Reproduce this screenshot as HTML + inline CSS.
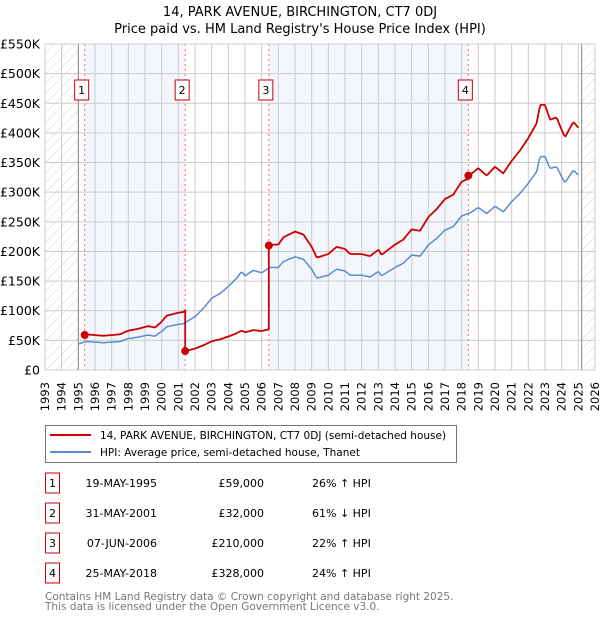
<!DOCTYPE html>
<html><head><meta charset="utf-8"><style>
body{margin:0;background:#fff;font-family:"DejaVu Sans","Liberation Sans",sans-serif;}
svg text{font-family:"DejaVu Sans","Liberation Sans",sans-serif;}
</style></head><body>
<svg id="c" width="600" height="620" xmlns="http://www.w3.org/2000/svg">
<defs><pattern id="hatch" width="7" height="7" patternUnits="userSpaceOnUse" patternTransform="rotate(45)"><line x1="0" y1="0" x2="0" y2="7" stroke="#d4d4d4" stroke-width="1"/></pattern></defs>
<text x="300" y="16" text-anchor="middle" font-size="13">14, PARK AVENUE, BIRCHINGTON, CT7 0DJ</text>
<text x="300" y="33" text-anchor="middle" font-size="13">Price paid vs. HM Land Registry's House Price Index (HPI)</text>
<g id="plot"></g>
<g>
<rect x="45.5" y="425.5" width="411" height="37" fill="#fff" stroke="#777"/>
<line x1="50" y1="435" x2="91" y2="435" stroke="#cc0000" stroke-width="2"/>
<text x="100" y="439" font-size="10.5">14, PARK AVENUE, BIRCHINGTON, CT7 0DJ (semi-detached house)</text>
<line x1="50" y1="452" x2="91" y2="452" stroke="#5b8bd0" stroke-width="2"/>
<text x="100" y="456" font-size="10.5">HPI: Average price, semi-detached house, Thanet</text>
</g>
<g id="table"></g>
<text x="45" y="600" font-size="10.5" fill="#777">Contains HM Land Registry data © Crown copyright and database right 2025.</text>
<text x="45" y="610" font-size="10.5" fill="#777">This data is licensed under the Open Government Licence v3.0.</text>
</svg>
<script>
const hpiYears=[1995.0,1995.5,1996.5,1997.5,1998.0,1998.5,1999.2,1999.6,2000.0,2000.3,2001.0,2001.3,2002.0,2002.5,2003.0,2003.5,2004.0,2004.5,2004.8,2005.0,2005.5,2006.0,2006.5,2007.0,2007.3,2008.0,2008.5,2009.0,2009.3,2010.0,2010.5,2011.0,2011.3,2012.0,2012.5,2013.0,2013.2,2014.0,2014.5,2015.0,2015.5,2016.0,2016.5,2017.0,2017.5,2018.0,2018.5,2019.0,2019.5,2020.0,2020.5,2021.0,2021.5,2022.0,2022.5,2022.7,2023.0,2023.3,2023.7,2024.0,2024.2,2024.7,2025.0];
const hpiValues=[44,48,46,48,53,55,59,57,65,73,77,78,90,104,121,129,141,155,166,159,168,164,173,173,183,191,187,170,155,160,170,167,160,160,157,166,159,173,180,194,192,211,222,236,242,260,265,274,264,276,267,284,298,315,335,360,360,340,343,326,316,337,329];
const saleLabels=["1","2","3","4"];
const saleYears=[1995.38,2001.41,2006.43,2018.40];
const salePrices=[59000,32000,210000,328000];
const saleDates=["19-MAY-1995","31-MAY-2001","07-JUN-2006","25-MAY-2018"];
const saleDiffs=["26% \u2191 HPI","61% \u2193 HPI","22% \u2191 HPI","24% \u2191 HPI"];
const yTicks=[0,50,100,150,200,250,300,350,400,450,500,550];
const yTickLabels=["£0","£50K","£100K","£150K","£200K","£250K","£300K","£350K","£400K","£450K","£500K","£550K"];
const xTicks=[1993,1994,1995,1996,1997,1998,1999,2000,2001,2002,2003,2004,2005,2006,2007,2008,2009,2010,2011,2012,2013,2014,2015,2016,2017,2018,2019,2020,2021,2022,2023,2024,2025,2026];

const L=45,R=595,T=44,B=370,X0=1993,X1=2026,YMAX=550;
const xs=y=>L+(y-X0)/(X1-X0)*(R-L);
const ys=v=>B-v/YMAX*(B-T);
const NS="http://www.w3.org/2000/svg";
const plot=document.getElementById('plot');
function mk(tag,attrs,parent){const e=document.createElementNS(NS,tag);for(const k in attrs)e.setAttribute(k,attrs[k]);(parent||plot).appendChild(e);return e;}
function hpiAt(y){if(y<=hpiYears[0])return hpiValues[0];for(let i=1;i<hpiYears.length;i++){if(y<=hpiYears[i]){const t=(y-hpiYears[i-1])/(hpiYears[i]-hpiYears[i-1]);return hpiValues[i-1]+t*(hpiValues[i]-hpiValues[i-1]);}}return hpiValues[hpiValues.length-1];}

let e;
e=mk('rect',{x:L,y:T,width:R-L,height:B-T,fill:'#fff'});


[[0,1],[2,3]].forEach((p,i)=>{
 e=mk('rect',{x:xs(saleYears[p[0]]),y:T,width:xs(saleYears[p[1]])-xs(saleYears[p[0]]),height:B-T,fill:'#f3f6fd'});
 
 
});
e=mk('rect',{x:L,y:T,width:xs(1995)-L,height:B-T,fill:'url(#hatch)'});


e=mk('rect',{x:xs(2025.2),y:T,width:R-xs(2025.2),height:B-T,fill:'url(#hatch)'});


xTicks.forEach((t,i)=>{
 e=mk('line',{x1:xs(t),x2:xs(t),y1:T,y2:B,stroke:'#ccc','stroke-width':1});
 
 
 e=mk('text',{x:0,y:0,transform:`translate(${xs(t)+4},382) rotate(-90)`,'text-anchor':'end','font-size':11.5});
 e.textContent=t;
 
 
});
yTicks.forEach((t,i)=>{
 e=mk('line',{x1:L,x2:R,y1:ys(t),y2:ys(t),stroke:'#ccc','stroke-width':1});
 
 
 e=mk('text',{x:40,y:ys(t)+4.5,'text-anchor':'end','font-size':12.5});
 e.textContent=yTickLabels[i];
 
 
});
e=mk('line',{x1:xs(1995),x2:xs(1995),y1:T,y2:B,stroke:'#888'});


e=mk('line',{x1:xs(2025.2),x2:xs(2025.2),y1:T,y2:B,stroke:'#888'});


saleYears.forEach((s,i)=>{
 e=mk('line',{x1:xs(s),x2:xs(s),y1:T,y2:B,stroke:'#ff6666','stroke-width':1,'stroke-dasharray':'2,3'});
 
 
 const bx=xs(s)-3;
 e=mk('rect',{x:bx-7,y:80,width:14,height:20,fill:'#fff',stroke:'#cc0000'});
 
 
 e=mk('text',{x:bx,y:94,'text-anchor':'middle','font-size':11});
 e.textContent=saleLabels[i];
 
 
});
let pts=[];
for(let y=hpiYears[0];y<=hpiYears[hpiYears.length-1]+1e-9;y+=1/12)pts.push([y,hpiAt(y)]);
e=mk('polyline',{points:pts.map(p=>xs(p[0]).toFixed(1)+','+ys(p[1]).toFixed(1)).join(' '),fill:'none',stroke:'#5b8bd0','stroke-width':1.5});


let rp=[];
for(let i=0;i<saleYears.length;i++){
 const s=saleYears[i],end=i+1<saleYears.length?saleYears[i+1]:hpiYears[hpiYears.length-1];
 const f=salePrices[i]/1000/hpiAt(s);
 if(i>0)rp.push([s,salePrices[i]/1000]);
 for(let y=s;y<=end+1e-9;y+=1/12)rp.push([y,hpiAt(y)*f]);
 rp.push([end,hpiAt(end)*f]);
}
e=mk('polyline',{points:rp.map(p=>xs(p[0]).toFixed(1)+','+ys(p[1]).toFixed(1)).join(' '),fill:'none',stroke:'#cc0000','stroke-width':1.8});


saleYears.forEach((s,i)=>{
 e=mk('circle',{cx:xs(s),cy:ys(salePrices[i]/1000),r:4,fill:'#cc0000'});
 
 
});
e=mk('rect',{x:L,y:T,width:R-L,height:B-T,fill:'none',stroke:'#ccc'});


const tb=document.getElementById('table');
saleLabels.forEach((l,i)=>{
 const yc=483+i*30;
 e=mk('rect',{x:45.5,y:yc-10,width:14,height:20,fill:'#fff',stroke:'#cc0000'},tb);
 
 
 e=mk('text',{x:52.5,y:yc+4,'text-anchor':'middle','font-size':11},tb);e.textContent=l;
 
 
 e=mk('text',{x:157,y:yc+4,'text-anchor':'end','font-size':11},tb);e.textContent=saleDates[i];
 
 
 e=mk('text',{x:264,y:yc+4,'text-anchor':'end','font-size':11},tb);e.textContent='£'+salePrices[i].toLocaleString('en-GB');
 
 
 e=mk('text',{x:312,y:yc+4,'font-size':11},tb);e.textContent=saleDiffs[i];
 
 
});
</script>
</body></html>
